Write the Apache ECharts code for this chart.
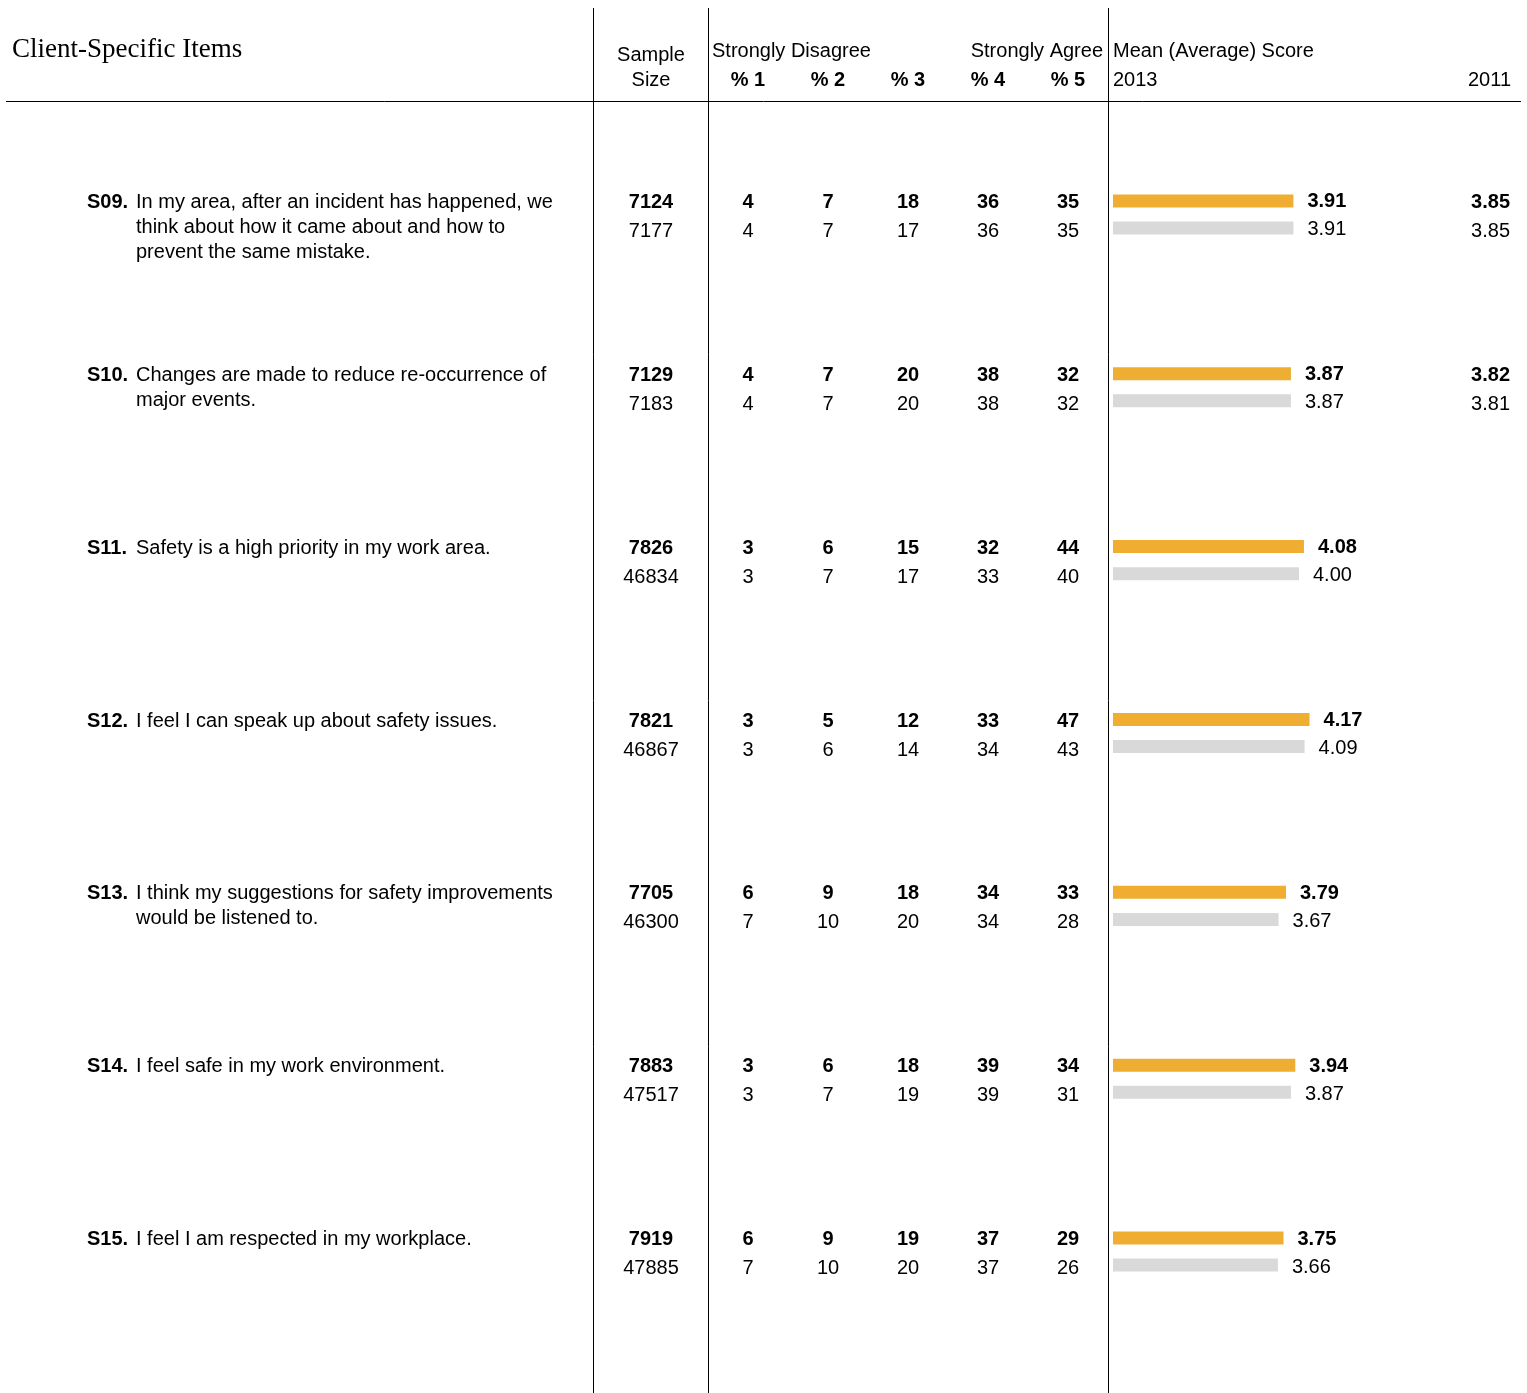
<!DOCTYPE html>
<html>
<head>
<meta charset="utf-8">
<script src="https://cdn.jsdelivr.net/npm/echarts@6/dist/echarts.min.js"></script>
<style>
  html, body { margin: 0; padding: 0; background: #fff; }
  #main { width: 1527px; height: 1393px; }
</style>
</head>
<body>
<div id="main"></div>
<script>
// item codes and statements
var codes = ['S09.', 'S10.', 'S11.', 'S12.', 'S13.', 'S14.', 'S15.'];
var statements = [
  'In my area, after an incident has happened, we\nthink about how it came about and how to\nprevent the same mistake.',
  'Changes are made to reduce re-occurrence of\nmajor events.',
  'Safety is a high priority in my work area.',
  'I feel I can speak up about safety issues.',
  'I think my suggestions for safety improvements\nwould be listened to.',
  'I feel safe in my work environment.',
  'I feel I am respected in my workplace.'
];
// sample size: client 2013 (bold) and comparison (normal)
var sample2013 = [7124, 7129, 7826, 7821, 7705, 7883, 7919];
var sampleComp = [7177, 7183, 46834, 46867, 46300, 47517, 47885];
// % 1 .. % 5
var pct2013 = [
  [4, 7, 18, 36, 35],
  [4, 7, 20, 38, 32],
  [3, 6, 15, 32, 44],
  [3, 5, 12, 33, 47],
  [6, 9, 18, 34, 33],
  [3, 6, 18, 39, 34],
  [6, 9, 19, 37, 29]
];
var pctComp = [
  [4, 7, 17, 36, 35],
  [4, 7, 20, 38, 32],
  [3, 7, 17, 33, 40],
  [3, 6, 14, 34, 43],
  [7, 10, 20, 34, 28],
  [3, 7, 19, 39, 31],
  [7, 10, 20, 37, 26]
];
// mean score 2013
var mean2013 = [3.91, 3.87, 4.08, 4.17, 3.79, 3.94, 3.75];
var meanComp = [3.91, 3.87, 4.00, 4.09, 3.67, 3.87, 3.66];
// mean score 2011
var mean2011 = [3.85, 3.82, null, null, null, null, null];
var mean2011Comp = [3.85, 3.81, null, null, null, null, null];

var FONT = '"Liberation Sans", Arial, sans-serif';
var SIZE = 20;
var pctX = [748, 828, 908, 988, 1068];

var chart = echarts.init(document.getElementById('main'));

function txt(x, y, s, opt) {
  opt = opt || {};
  return {
    type: 'text',
    x: x,
    y: y,
    style: {
      text: s,
      font: (opt.bold ? 'bold ' : '') + (opt.size || SIZE) + 'px ' + (opt.family || FONT),
      fill: '#000',
      align: opt.align || 'left',
      verticalAlign: opt.va || 'middle',
      lineHeight: opt.lh || 25
    }
  };
}

function line(x1, y1, x2, y2) {
  return {
    type: 'line',
    shape: { x1: x1, y1: y1, x2: x2, y2: y2 },
    style: { stroke: '#000', lineWidth: 1 }
  };
}

var option = {
  animation: false,
  backgroundColor: '#fff',
  grid: { left: 1113, width: 248, top: 128, height: 1210 },
  xAxis: { type: 'value', min: 1, max: 5, show: false },
  yAxis: { type: 'category', data: codes, inverse: true, show: false },
  graphic: [
    line(593.5, 8, 593.5, 1393),
    line(708.5, 8, 708.5, 1393),
    line(1108.5, 8, 1108.5, 1393),
    line(6, 101.5, 1521, 101.5),
    txt(12, 50, 'Client-Specific Items', { size: 27, family: '"Liberation Serif", "DejaVu Serif", serif' }),
    txt(651, 55, 'Sample', { align: 'center' }),
    txt(651, 80, 'Size', { align: 'center' }),
    txt(712, 51, 'Strongly Disagree'),
    txt(1103, 51, 'Strongly Agree', { align: 'right' }),
    txt(748, 80, '% 1', { align: 'center', bold: true }),
    txt(828, 80, '% 2', { align: 'center', bold: true }),
    txt(908, 80, '% 3', { align: 'center', bold: true }),
    txt(988, 80, '% 4', { align: 'center', bold: true }),
    txt(1068, 80, '% 5', { align: 'center', bold: true }),
    txt(1113, 51, 'Mean (Average) Score'),
    txt(1113, 80, '2013'),
    txt(1511, 80, '2011', { align: 'right' })
  ],
  series: [
    {
      name: '2013',
      type: 'bar',
      data: mean2013,
      barWidth: 13,
      barGap: '108%',
      itemStyle: { color: '#EFAE32' },
      label: {
        show: true,
        position: 'right',
        distance: 14,
        offset: [0, 1],
        color: '#000',
        fontFamily: FONT,
        fontSize: SIZE,
        fontWeight: 'bold',
        formatter: function (p) { return p.value.toFixed(2); }
      }
    },
    {
      name: 'Comparison',
      type: 'bar',
      data: meanComp,
      barWidth: 13,
      itemStyle: { color: '#D9D9D9' },
      label: {
        show: true,
        position: 'right',
        distance: 14,
        offset: [0, 2],
        color: '#000',
        fontFamily: FONT,
        fontSize: SIZE,
        formatter: function (p) { return p.value.toFixed(2); }
      }
    },
    {
      name: 'table',
      type: 'custom',
      clip: false,
      silent: true,
      data: codes.map(function (c, i) { return [1, i]; }),
      encode: { x: 0, y: 1 },
      renderItem: function (params, api) {
        var i = params.dataIndex;
        var yc = api.coord([api.value(0), api.value(1)])[1];
        var yTop = yc - 12;
        var yBot = yc + 17;
        var kids = [
          txt(87, yTop, codes[i], { bold: true }),
          txt(136, yTop - 12.5, statements[i], { va: 'top' }),
          txt(651, yTop, String(sample2013[i]), { align: 'center', bold: true }),
          txt(651, yBot, String(sampleComp[i]), { align: 'center' })
        ];
        for (var k = 0; k < 5; k++) {
          kids.push(txt(pctX[k], yTop, String(pct2013[i][k]), { align: 'center', bold: true }));
          kids.push(txt(pctX[k], yBot, String(pctComp[i][k]), { align: 'center' }));
        }
        if (mean2011[i] != null) {
          kids.push(txt(1510, yTop, mean2011[i].toFixed(2), { align: 'right', bold: true }));
          kids.push(txt(1510, yBot, mean2011Comp[i].toFixed(2), { align: 'right' }));
        }
        return { type: 'group', children: kids };
      }
    }
  ]
};

chart.setOption(option);
</script>
</body>
</html>
